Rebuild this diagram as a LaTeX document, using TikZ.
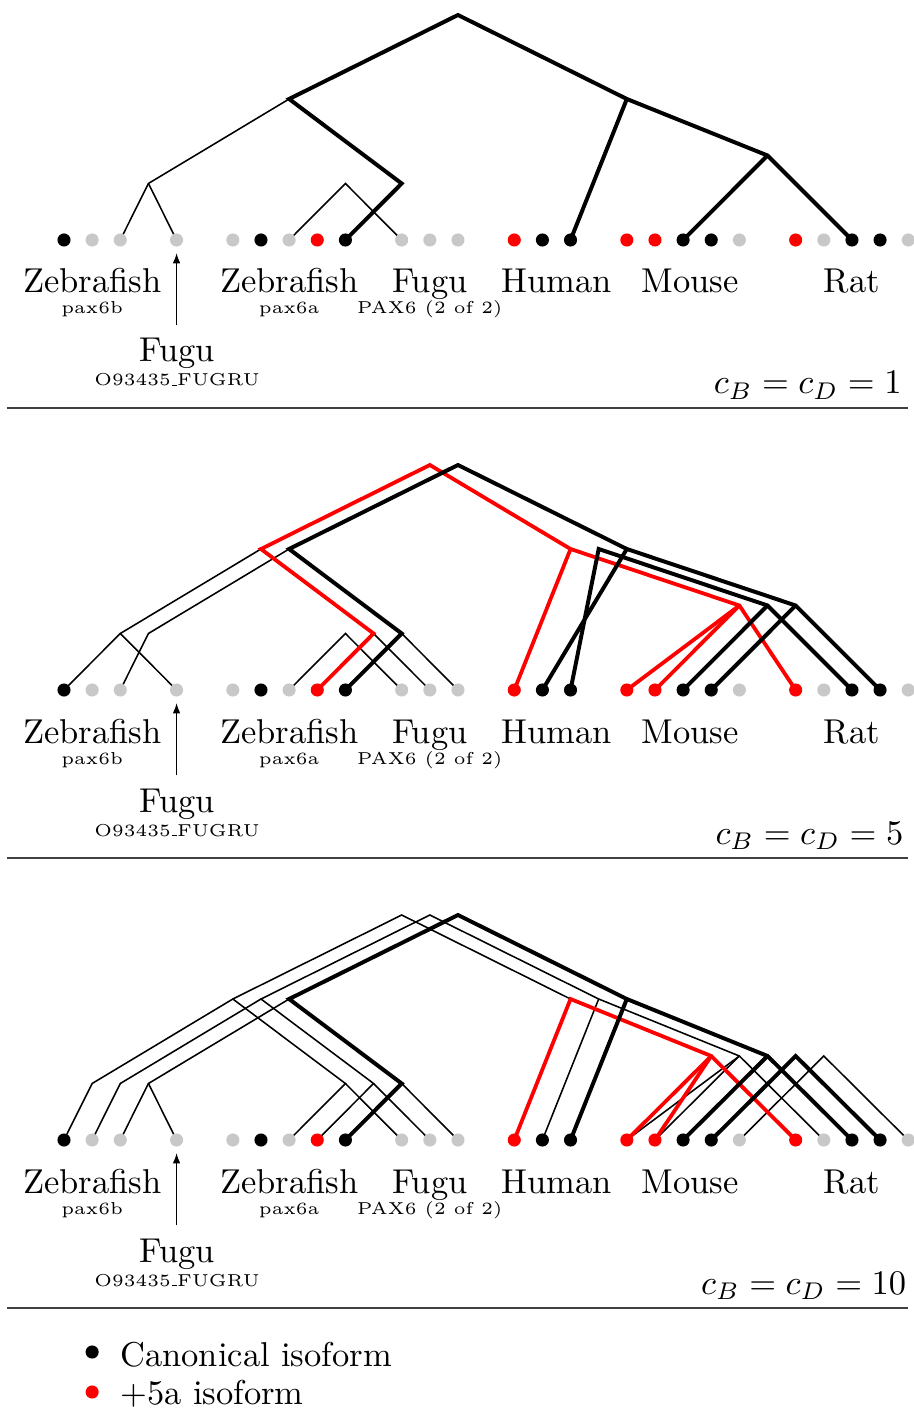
\documentclass[tikz,border=0pt]{standalone}
\usetikzlibrary{arrows.meta}
\definecolor{dotgray}{RGB}{200,200,200}
\definecolor{isored}{RGB}{255,0,0}
\pgfdeclarelayer{edgelayer}
\pgfsetlayers{edgelayer,main}
\newcommand{\lowbar}{\leavevmode\kern.06em\vbox{\hrule width.3em}}
\begin{document}
\begin{tikzpicture}[x=8.1606pt,y=-0.29pt,
  leaf/.style={circle,fill=#1,draw=none,inner sep=0pt,minimum size=3.8pt},
  thk/.style={line width=1.15pt,black,line join=miter,line cap=round},
  thn/.style={line width=0.45pt,black,line join=miter,line cap=round},
  rthk/.style={line width=1.1pt,isored,line join=miter,line cap=round},
  lab/.style={anchor=base,inner sep=0pt,font=\normalsize},
  sublab/.style={anchor=base,inner sep=0pt,font=\tiny},
  sepline/.style={line width=0.5pt,black!75},
  arr/.style={line width=0.4pt,-{Latex[length=3pt,width=2.2pt]}}]
\useasboundingbox (-2.2743,0) rectangle (30.1706,1409);

% ---------- leaves, labels, separators for the three panels ----------
\foreach \p/\o in {1/0,2/450,3/900}{
  \foreach \i/\c in {0/black,1/dotgray,2/dotgray,4/dotgray,6/dotgray,7/black,8/dotgray,9/isored,10/black,12/dotgray,13/dotgray,14/dotgray,16/isored,17/black,18/black,20/isored,21/isored,22/black,23/black,24/dotgray,26/isored,27/dotgray,28/black,29/black,30/dotgray}{
    \node[leaf=\c] (l\p-\i) at (\i,240+\o) {};
  }
  \node[lab] (zfb\p) at (1,293+\o) {Zebrafish};
  \node[sublab] (pxb\p) at (1,314+\o) {pax6b};
  \node[lab] (zfa\p) at (8,293+\o) {Zebrafish};
  \node[sublab] (pxa\p) at (8,314+\o) {pax6a};
  \node[lab] (fg\p) at (13,293+\o) {Fugu};
  \node[sublab] (pxf\p) at (13,314+\o) {PAX6 (2 of 2)};
  \node[lab] (hu\p) at (17.5,293+\o) {Human};
  \node[lab] (mo\p) at (22.26,293+\o) {Mouse};
  \node[lab] (ra\p) at (28,293+\o) {Rat};
  \node[lab] (fo\p) at (4.02,362+\o) {Fugu};
  \node[sublab] (fid\p) at (4.02,386+\o) {O93435\lowbar FUGRU};
  \coordinate (as\p) at (4,325+\o);
  \coordinate (ae\p) at (4,253+\o);
  \draw[arr] (as\p) -- (ae\p);
  \coordinate (sl\p) at (-2.03,408+\o);
  \coordinate (sr\p) at (29.99,408+\o);
  \draw[sepline] (sl\p) -- (sr\p);
}
\node[anchor=base east,inner sep=0pt] (eq1) at (29.79,394) {$c_B = c_D = 1$};
\node[anchor=base east,inner sep=0pt] (eq2) at (29.85,844) {$c_B = c_D = 5$};
\node[anchor=base east,inner sep=0pt] (eq3) at (29.95,1294) {$c_B = c_D = 10$};

% ---------- legend ----------
\node[leaf=black] (lg1) at (1,1352) {};
\node[anchor=base west,inner sep=0pt] (lt1) at (1.98,1366) {Canonical isoform};
\node[leaf=isored] (lg2) at (1,1392) {};
\node[anchor=base west,inner sep=0pt] (lt2) at (1.98,1404) {+5a isoform};

% ---------- internal nodes ----------
% panel 1
\coordinate (r1) at (14,15);
\coordinate (a1) at (8,99);
\coordinate (b1) at (20,99);
\coordinate (c1) at (25,155.5);
\coordinate (d1) at (12,183.5);
\coordinate (e1) at (3,183.5);
\coordinate (f1) at (10,183.5);
% panel 2
\coordinate (r2) at (14,465);
\coordinate (q2) at (13,465);
\coordinate (a2) at (8,549);
\coordinate (ra2) at (7,549);
\coordinate (b2) at (20,549);
\coordinate (rb2) at (18,549);
\coordinate (g2) at (19,549);
\coordinate (c2) at (25,605.5);
\coordinate (h2) at (26,605.5);
\coordinate (rc2) at (24,605.5);
\coordinate (e2a) at (2,633.5);
\coordinate (e2b) at (3,633.5);
\coordinate (f2) at (10,633.5);
\coordinate (rd2) at (11,633.5);
\coordinate (d2) at (12,633.5);
% panel 3
\coordinate (t1) at (12,915);
\coordinate (t2) at (13,915);
\coordinate (r3) at (14,915);
\coordinate (n6) at (6,999);
\coordinate (n7) at (7,999);
\coordinate (n8) at (8,999);
\coordinate (m1) at (1,1083.5);
\coordinate (m2) at (2,1083.5);
\coordinate (m3) at (3,1083.5);
\coordinate (p10) at (10,1083.5);
\coordinate (p11) at (11,1083.5);
\coordinate (p12) at (12,1083.5);
\coordinate (s18) at (18,999);
\coordinate (s19) at (19,999);
\coordinate (s20) at (20,999);
\coordinate (u23) at (23,1056);
\coordinate (u24) at (24,1056);
\coordinate (u25) at (25,1056);
\coordinate (u26) at (26,1056);
\coordinate (u27) at (27,1056);

\begin{pgfonlayer}{edgelayer}
% panel 1
\draw[thn] (a1) -- (e1) -- (l1-2.center);
\draw[thn] (e1) -- (l1-4.center);
\draw[thn] (l1-8.center) -- (f1) -- (l1-12.center);
\draw[thk] (l1-10.center) -- (d1) -- (a1) -- (r1) -- (b1) -- (c1) -- (l1-28.center);
\draw[thk] (b1) -- (l1-18.center);
\draw[thk] (c1) -- (l1-22.center);
% panel 2
\draw[thn] (ra2) -- (e2a) -- (l2-0.center);
\draw[thn] (e2a) -- (l2-4.center);
\draw[thn] (a2) -- (e2b) -- (l2-2.center);
\draw[thn] (l2-8.center) -- (f2) -- (l2-12.center);
\draw[thn] (rd2) -- (l2-13.center);
\draw[thn] (d2) -- (l2-14.center);
\draw[rthk] (l2-9.center) -- (rd2) -- (ra2) -- (q2) -- (rb2) -- (rc2) -- (l2-26.center);
\draw[rthk] (rb2) -- (l2-16.center);
\draw[rthk] (rc2) -- (l2-20.center);
\draw[rthk] (rc2) -- (l2-21.center);
\draw[thk] (l2-10.center) -- (d2) -- (a2) -- (r2) -- (b2) -- (h2) -- (l2-29.center);
\draw[thk] (b2) -- (l2-17.center);
\draw[thk] (h2) -- (l2-23.center);
\draw[thk] (l2-18.center) -- (g2) -- (c2) -- (l2-28.center);
\draw[thk] (c2) -- (l2-22.center);
% panel 3
\draw[thn] (l3-0.center) -- (m1) -- (n6) -- (t1) -- (s18);
\draw[thn] (n6) -- (p10) -- (l3-8.center);
\draw[thn] (p10) -- (l3-12.center);
\draw[thn] (l3-1.center) -- (m2) -- (n7) -- (t2) -- (s19) -- (u24) -- (l3-27.center);
\draw[thn] (n7) -- (p11) -- (l3-9.center);
\draw[thn] (p11) -- (l3-13.center);
\draw[thn] (s19) -- (l3-17.center);
\draw[thn] (u24) -- (l3-20.center);
\draw[thn] (u24) -- (l3-21.center);
\draw[thn] (n8) -- (m3) -- (l3-2.center);
\draw[thn] (m3) -- (l3-4.center);
\draw[thn] (p12) -- (l3-14.center);
\draw[thn] (l3-24.center) -- (u27) -- (l3-30.center);
\draw[rthk] (l3-16.center) -- (s18) -- (u23) -- (l3-26.center);
\draw[rthk] (u23) -- (l3-20.center);
\draw[rthk] (u23) -- (l3-21.center);
\draw[thk] (l3-10.center) -- (p12) -- (n8) -- (r3) -- (s20) -- (u25) -- (l3-28.center);
\draw[thk] (s20) -- (l3-18.center);
\draw[thk] (u25) -- (l3-22.center);
\draw[thk] (l3-23.center) -- (u26) -- (l3-29.center);
\end{pgfonlayer}
\end{tikzpicture}
\end{document}
